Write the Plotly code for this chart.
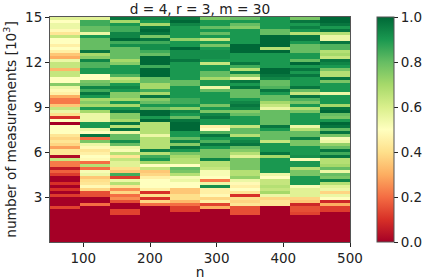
import plotly.graph_objects as go

# success rate, listed top row (15k) to bottom row (0)
c1 = [.58,.5,.55,.55,.48,.42,.64,.5,.5,.45,.5,.45,.35,.3,.55,.64,.64,.32,.64,.64,.5,.5,.75,.55,.48,.45,.3,.22,.22,.35,.64,.55,.4,.1,.5,0,
      .5,.5,.5,.42,.38,.42,.38,.28,.42,.42,.02,.64,.22,.22,.05,.18,.12,0,0,.1,0,.1,0,.12,0,0,0,.13,0,0,0,0,0,0,0,0,0,0,0]
c2 = [.58,.85,.85,.8,.8,.55,.9,.8,.8,.8,.8,.97,.7,.75,.94,.83,.83,.9,.9,.5,.5,.77,.8,.94,.85,.97,.9,.7,.75,.7,.9,.7,.55,.55,.55,.9,
      .9,.55,.5,.97,.2,.77,.55,.48,.42,.45,.5,.48,.2,.67,.2,.52,.55,.35,.4,.42,.48,.38,.15,.15,0,0,.2,0,0,0,0,0,0,0,0,0,0,0,0]
c3 = [.97,.7,.9,.85,.85,.94,.94,1,.85,.92,.8,.8,.8,.8,.7,.75,.9,.9,.9,.83,.64,.7,.9,.94,.9,.75,.75,.7,.9,.7,.9,.97,.75,.75,.7,.97,
      .67,.97,.55,.8,.8,.92,.8,.55,.52,.67,.42,.64,.58,.58,.4,.35,.85,.12,.55,.67,.42,.25,.38,.2,.25,.15,0,0,.13,.13,0,0,0,0,0,0,0,0,0]
c4 = [.94,.9,.7,.97,1,.97,.77,.97,.85,.92,.92,.85,.8,1,1,1,.85,1,1,1,.8,.8,.7,.7,.85,.7,.97,.75,.8,.9,.8,1,1,.9,1,.67,
      .67,.67,.67,.55,.67,.67,.67,.67,.95,.67,.85,.9,.7,.5,.64,.35,.38,.45,.5,.5,.5,.45,.1,.4,.1,.38,.2,0,0,0,0,0,0,0,0,0,0,0,0]
c5 = [.97,1,.94,.9,.9,.9,.9,.73,.9,.9,1,.92,.92,.92,.97,.9,.9,.9,.9,.9,.9,.8,.8,.9,.9,.9,.9,.85,.85,.9,.73,.94,.9,.8,.97,1,
      1,1,.9,.9,.8,.94,.75,.97,.9,.77,.7,.67,.67,.5,.8,.77,.67,.52,.55,.5,.5,.35,.35,.4,.4,.32,.2,.12,.12,0,0,0,0,0,0,0,0,0,0]
c6 = [.77,.9,.9,.8,.9,.8,.9,.64,.9,.77,.9,.92,.92,.92,.9,.64,.9,.9,.8,.8,.7,.9,.9,.55,.8,.9,.9,.9,.9,.77,.9,.77,.94,.97,.9,.9,
      .45,.5,.83,.97,.9,.83,.97,.9,.77,.77,.77,.94,.67,.67,.64,.52,.52,.5,.22,.55,.92,.45,.45,.48,.38,.45,.13,.3,0,0,0,0,0,0,0,0,0,0,0]
c7 = [.8,.9,.8,.75,.9,.9,.9,.9,.9,1,1,1,.9,.9,.9,.97,.85,.67,.94,.75,.55,.97,.9,.97,.8,.8,.8,.9,.94,.97,.94,.75,.8,.9,.9,.9,
      .64,.8,.8,.67,.9,.94,.97,.8,.75,.67,.58,.77,.77,.77,.77,.67,.67,.73,.55,.48,.45,.5,.42,.1,.4,.38,.42,.15,.15,.15,0,0,0,0,0,0,0,0,0]
c8 = [.9,.9,.9,.9,.8,.8,1,1,1,1,.67,1,.9,.9,.9,.9,.9,1,1,.97,.94,.8,.8,.83,.97,.9,.8,.8,.7,.64,.55,.8,.8,.8,.8,.8,
      .97,.9,.8,.8,.8,.64,.9,.9,.9,.97,.7,.9,.9,.9,.9,.9,.55,.5,.64,.64,.67,.64,.7,.55,.38,.42,.42,0,0,0,0,0,0,0,0,0,0,0,0]
c9 = [.77,.97,.9,.95,.9,.67,.97,.97,.9,.8,.8,.8,.9,.9,.8,1,.9,.97,.9,.97,.9,.9,.9,.97,.8,.64,.97,.83,.77,.9,.67,.77,.9,.9,.9,.9,
      .55,.67,.8,.8,.95,.77,.77,.9,.9,.9,.92,.52,.9,.9,.67,.77,.77,.9,.9,.9,.52,.58,.58,.58,.38,.35,.08,.15,.15,.13,0,0,0,0,0,0,0,0,0]
c10 = [1,1,.97,.9,.97,.67,.55,.55,.97,.83,.83,.67,.7,.64,.97,.94,.9,.77,.67,.67,.97,.77,.9,.9,.9,.55,.9,.9,.9,.7,.97,1,.8,.77,.9,1,
       .97,.8,.97,.77,.52,.55,.73,.8,.97,.85,.97,.67,.67,.7,.8,.55,.8,.77,.94,.67,.58,.55,.38,.55,.5,.08,.3,.12,.12,0,0,0,0,0,0,0,0,0,0]

columns = [c1, c2, c3, c4, c5, c6, c7, c8, c9, c10]
n_edges = [50, 95, 140, 185, 230, 275, 320, 365, 410, 455, 500]
m_edges = [k * 0.2 for k in range(76)]
for col in columns:
    assert len(col) == 75, len(col)
z = [[col[74 - r] for col in columns] for r in range(75)]

x_ticks = [100, 200, 300, 400, 500]
y_ticks = [3, 6, 9, 12, 15]
cb_ticks = [0, 0.2, 0.4, 0.6, 0.8, 1.0]
FONT = "DejaVu Sans"
INK = "#222222"

fig = go.Figure(go.Heatmap(
    x=n_edges, y=m_edges, z=z, zmin=0, zmax=1, colorscale="RdYlGn",
    colorbar=dict(
        x=(377 - 50) / 300, xanchor="left", xpad=0, ypad=0,
        y=0.5, yanchor="middle", len=1, lenmode="fraction",
        thickness=17, thicknessmode="pixels", outlinewidth=1, outlinecolor="#555555",
        tickvals=cb_ticks, ticktext=["0.0", "0.2", "0.4", "0.6", "0.8", "1.0"],
        ticks="outside", ticklen=4, tickwidth=1, tickcolor=INK,
        tickfont=dict(family=FONT, size=13.5, color=INK),
    ),
))
fig.update_layout(
    width=423, height=280, margin=dict(l=50, r=73, t=17, b=38, autoexpand=False),
    paper_bgcolor="white", plot_bgcolor="white",
    title=dict(text="d = 4, r = 3, m = 30", x=200 / 423, xanchor="center", y=0.968, yanchor="middle",
               font=dict(family=FONT, size=13.7, color=INK), pad=dict(t=0)),
    font=dict(family=FONT, size=13.5, color=INK),
    xaxis=dict(title=dict(text="n", standoff=2, font=dict(size=13.7)), range=[50, 500], tickvals=x_ticks,
               automargin=False,
               ticks="outside", ticklen=4, tickwidth=1, tickcolor=INK,
               showline=True, linecolor="#555555", linewidth=1, mirror=True, showgrid=False, zeroline=False),
    yaxis=dict(title=dict(text="number of measurements [10<sup>3</sup>]", standoff=5, font=dict(size=13.7)),
               automargin=False,
               range=[0, 15], tickvals=y_ticks,
               ticks="outside", ticklen=4, tickwidth=1, tickcolor=INK,
               showline=True, linecolor="#555555", linewidth=1, mirror=True, showgrid=False, zeroline=False),
)
fig.write_html("out.html", config={"displayModeBar": False},
               post_script="document.body.style.margin='0';document.body.style.overflow='hidden';")
